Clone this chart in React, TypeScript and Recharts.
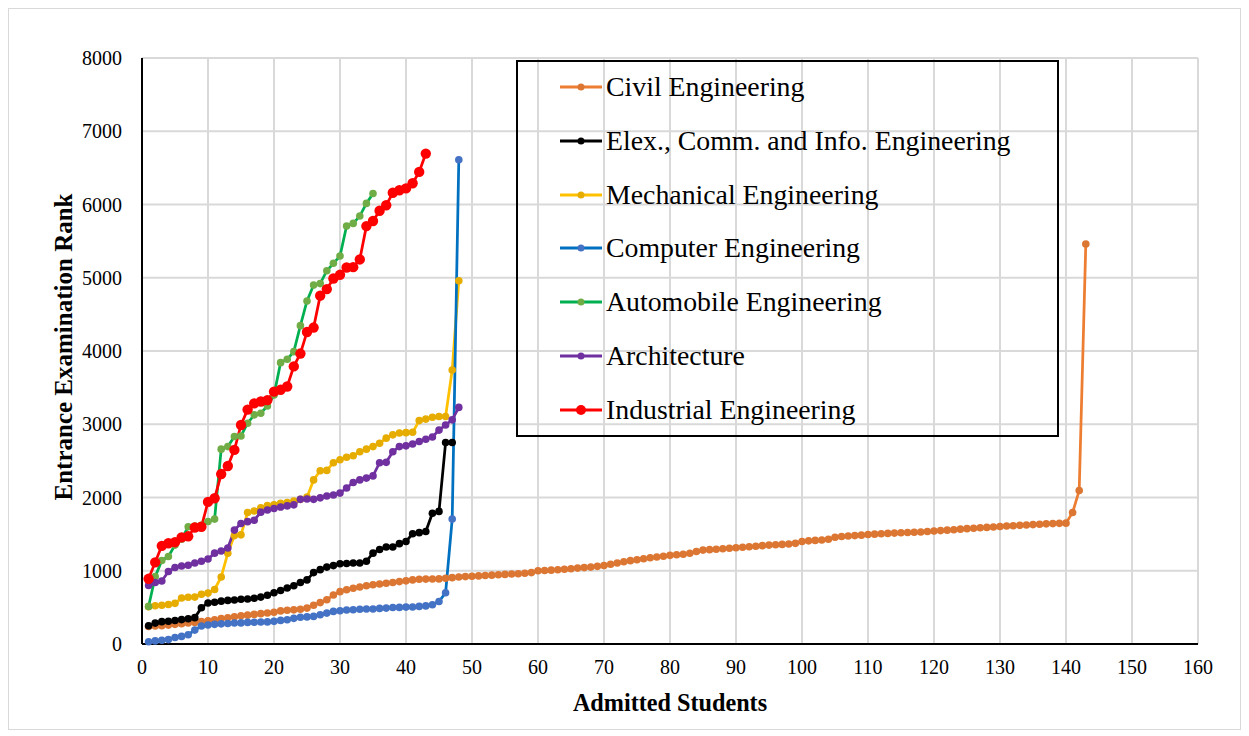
import { LineChart, Line, XAxis, YAxis, CartesianGrid, Legend } from 'recharts';

// Admitted students ranked by entrance examination rank, one series per department

const xTicks = [0, 10, 20, 30, 40, 50, 60, 70, 80, 90, 100, 110, 120, 130, 140, 150, 160];
const yTicks = [0, 1000, 2000, 3000, 4000, 5000, 6000, 7000, 8000];

const civilRank = [
  240, 245, 250, 258, 268, 278, 286, 295, 305, 318,
  332, 348, 358, 372, 384, 394, 404, 414, 424, 434,
  452, 460, 466, 474, 490, 530, 565, 605, 668, 715,
  740, 762, 778, 795, 808, 820, 830, 840, 852, 862,
  875, 884, 886, 887, 889, 897, 906, 914, 920, 925,
  930, 935, 940, 945, 950, 955, 960, 966, 975, 1000,
  1004, 1008, 1013, 1020, 1028, 1036, 1043, 1050, 1060, 1072,
  1088, 1105, 1122, 1138, 1150, 1163, 1177, 1188, 1198, 1210,
  1218, 1226, 1238, 1262, 1282, 1288, 1294, 1300, 1308, 1315,
  1320, 1328, 1335, 1343, 1350, 1355, 1360, 1366, 1374, 1400,
  1408, 1414, 1420, 1430, 1458, 1468, 1474, 1480, 1486, 1495,
  1500, 1505, 1510, 1514, 1518, 1522, 1526, 1530, 1536, 1542,
  1548, 1554, 1560, 1568, 1575, 1581, 1587, 1592, 1598, 1604,
  1610, 1615, 1620, 1625, 1630, 1635, 1640, 1644, 1647, 1650,
  1795, 2095, 5460,
];

const elexRank = [
  250, 285, 305, 310, 320, 333, 345, 360, 495, 560,
  570, 585, 595, 600, 610, 615, 625, 640, 665, 700,
  730, 765, 795, 840, 875, 975, 1015, 1050, 1070, 1095,
  1100, 1105, 1105, 1130, 1240, 1290, 1325, 1325, 1370, 1400,
  1505, 1520, 1535, 1785, 1810, 2750, 2750,
];

const mechanicalRank = [
  510, 522, 530, 540, 555, 627, 638, 640, 680, 695,
  745, 915, 1240, 1480, 1490, 1795, 1815, 1860, 1890, 1900,
  1920, 1930, 1950, 1975, 2005, 2240, 2365, 2370, 2475, 2515,
  2550, 2570, 2625, 2660, 2695, 2740, 2810, 2855, 2880, 2885,
  2890, 3050, 3070, 3095, 3105, 3105, 3740, 4960,
];

const computerRank = [
  30, 42, 52, 60, 88, 104, 127, 190, 245, 260,
  268, 275, 280, 286, 288, 295, 297, 300, 302, 309,
  322, 331, 350, 365, 370, 377, 400, 422, 445, 454,
  465, 468, 475, 477, 478, 486, 490, 498, 500, 504,
  506, 513, 520, 535, 580, 700, 1705, 6610,
];

const automobileRank = [
  513, 920, 1140, 1195, 1350, 1430, 1600, 1610, 1620, 1672,
  1705, 2660, 2695, 2832, 2840, 3014, 3128, 3150, 3250, 3400,
  3841, 3887, 3991, 4346, 4683, 4900, 4920, 5096, 5197, 5296,
  5706, 5742, 5842, 6015, 6151,
];

const architectureRank = [
  800, 840, 860, 990, 1045, 1065, 1075, 1105, 1130, 1160,
  1240, 1270, 1310, 1555, 1645, 1670, 1690, 1800, 1830, 1850,
  1870, 1885, 1900, 1975, 1980, 1975, 1995, 2020, 2035, 2060,
  2130, 2205, 2240, 2265, 2295, 2475, 2480, 2625, 2695, 2705,
  2730, 2765, 2795, 2825, 2920, 2990, 3060, 3230,
];

const industrialRank = [
  890, 1115, 1340, 1375, 1390, 1455, 1470, 1590, 1600, 1940,
  1990, 2320, 2430, 2650, 2990, 3200, 3285, 3310, 3330, 3445,
  3470, 3515, 3790, 3965, 4260, 4320, 4755, 4845, 4990, 5040,
  5140, 5145, 5250, 5705, 5775, 5915, 5990, 6160, 6195, 6220,
  6290, 6445, 6695,
];

const toPoints = (vals: number[]) => vals.map((y, i) => ({ x: i + 1, y }));

const series = [
  { name: 'Civil Engineering', values: civilRank, line: '#ED7D31', dot: '#DC7633', r: 3.8 },
  { name: 'Elex., Comm. and Info. Engineering', values: elexRank, line: '#000000', dot: '#000000', r: 3.8 },
  { name: 'Mechanical Engineering', values: mechanicalRank, line: '#FFC000', dot: '#E6AC00', r: 3.8 },
  { name: 'Computer Engineering', values: computerRank, line: '#0070C0', dot: '#4472C4', r: 3.8 },
  { name: 'Automobile Engineering', values: automobileRank, line: '#00B050', dot: '#70AD47', r: 3.8 },
  { name: 'Architecture', values: architectureRank, line: '#7030A0', dot: '#7030A0', r: 3.8 },
  { name: 'Industrial Engineering', values: industrialRank, line: '#FF0000', dot: '#FF0000', r: 5.2 },
];

const FONT = '"Liberation Serif", "Times New Roman", serif';

function LegendBox() {
  return (
    <div
      style={{
        width: 543,
        height: 377,
        border: '2px solid #000',
        boxSizing: 'border-box',
        position: 'relative',
        fontFamily: FONT,
      }}
    >
      {series.map((s, i) => (
        <div
          key={s.name}
          style={{
            position: 'absolute',
            left: 42,
            top: 25 + i * 53.8 - 18,
            height: 36,
            display: 'flex',
            alignItems: 'center',
            whiteSpace: 'nowrap',
          }}
        >
          <svg width={42} height={14} style={{ display: 'block' }}>
            <line x1={0} y1={7} x2={42} y2={7} stroke={s.line} strokeWidth={3} />
            <circle cx={21} cy={7} r={s.r > 4 ? 5 : 3.5} fill={s.dot} />
          </svg>
          <span style={{ marginLeft: 4, fontSize: 27.8, color: '#000', lineHeight: '36px' }}>{s.name}</span>
        </div>
      ))}
    </div>
  );
}

const YTitle = (props: any) => {
  const vb = props.viewBox;
  const cx = 54;
  const cy = vb.y + vb.height / 2 - 4;
  return (
    <text
      x={cx}
      y={cy}
      transform={`rotate(-90 ${cx} ${cy})`}
      textAnchor="middle"
      dominantBaseline="central"
      fontFamily={FONT}
      fontWeight="bold"
      fontSize={25}
      fill="#000"
    >
      Entrance Examination Rank
    </text>
  );
};

const XTitle = (props: any) => {
  const vb = props.viewBox;
  return (
    <text
      x={vb.x + vb.width / 2}
      y={702}
      textAnchor="middle"
      fontFamily={FONT}
      fontWeight="bold"
      fontSize={24.2}
      fill="#000"
    >
      Admitted Students
    </text>
  );
};

export default function App() {
  const tickStyle = { fontFamily: FONT, fontSize: 20, fill: '#000' };
  return (
    <div style={{ width: 1233, height: 722, border: '1px solid #d9d9d9', boxSizing: 'border-box', background: '#fff' }}>
      <LineChart width={1231} height={720} margin={{ top: 49, right: 42, left: -1, bottom: 0 }}>
        <CartesianGrid stroke="#d9d9d9" strokeWidth={2} />
        <XAxis
          dataKey="x"
          type="number"
          domain={[0, 160]}
          ticks={xTicks}
          interval={0}
          height={85}
          tickLine={false}
          tickMargin={10}
          axisLine={{ stroke: '#000', strokeWidth: 2 }}
          tick={tickStyle}
          allowDataOverflow
          label={{ content: XTitle }}
        />
        <YAxis
          dataKey="y"
          type="number"
          domain={[0, 8000]}
          ticks={yTicks}
          interval={0}
          width={134}
          tickLine={false}
          tickMargin={14}
          axisLine={{ stroke: '#000', strokeWidth: 2 }}
          tick={tickStyle}
          label={{ content: YTitle }}
        />
        <Legend
          layout="vertical"
          align="center"
          verticalAlign="middle"
          wrapperStyle={{ left: 507, top: 51, width: 543, height: 377 }}
          content={() => <LegendBox />}
        />
        {series.map((s) => (
          <Line
            key={s.name}
            data={toPoints(s.values)}
            dataKey="y"
            name={s.name}
            type="linear"
            stroke={s.line}
            strokeWidth={2.75}
            dot={{ r: s.r, fill: s.dot, stroke: s.dot, strokeWidth: 0 }}
            activeDot={false}
            isAnimationActive={false}
          />
        ))}
      </LineChart>
    </div>
  );
}
